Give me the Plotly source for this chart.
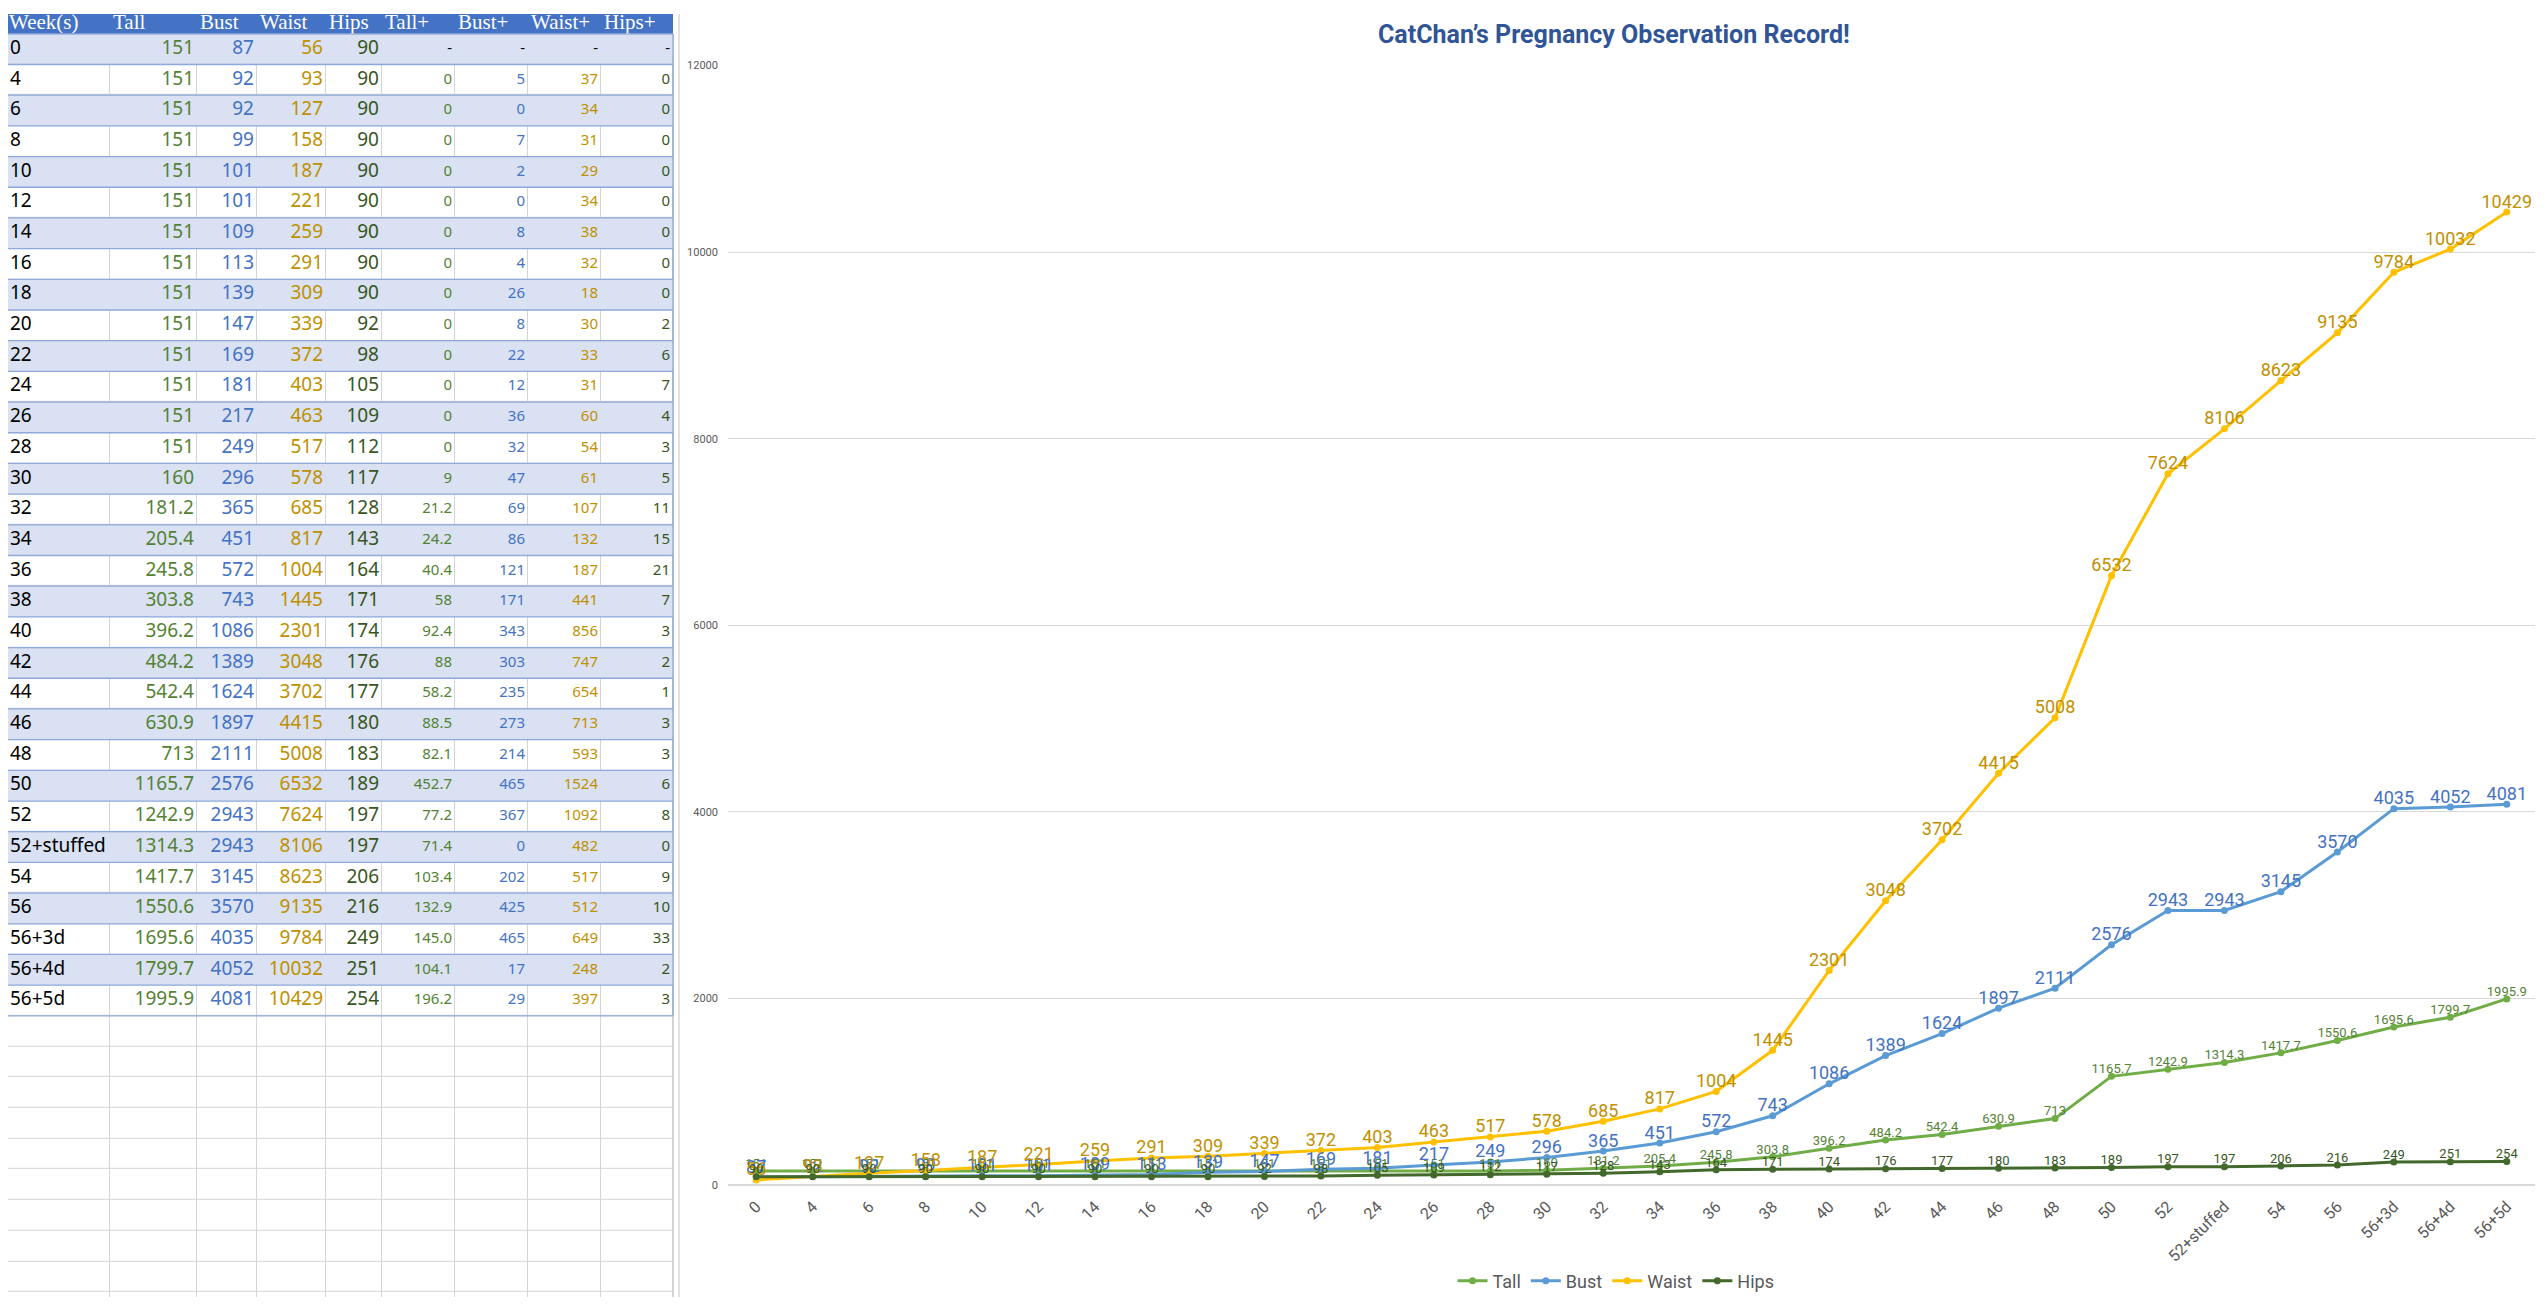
import plotly.graph_objects as go

# ---------------- data ----------------
weeks = ["0", "4", "6", "8", "10", "12", "14", "16", "18", "20", "22", "24", "26", "28",
         "30", "32", "34", "36", "38", "40", "42", "44", "46", "48", "50", "52",
         "52+stuffed", "54", "56", "56+3d", "56+4d", "56+5d"]
tall = [151, 151, 151, 151, 151, 151, 151, 151, 151, 151, 151, 151, 151, 151,
        160, 181.2, 205.4, 245.8, 303.8, 396.2, 484.2, 542.4, 630.9, 713, 1165.7,
        1242.9, 1314.3, 1417.7, 1550.6, 1695.6, 1799.7, 1995.9]
bust = [87, 92, 92, 99, 101, 101, 109, 113, 139, 147, 169, 181, 217, 249, 296, 365,
        451, 572, 743, 1086, 1389, 1624, 1897, 2111, 2576, 2943, 2943, 3145, 3570,
        4035, 4052, 4081]
waist = [56, 93, 127, 158, 187, 221, 259, 291, 309, 339, 372, 403, 463, 517, 578, 685,
         817, 1004, 1445, 2301, 3048, 3702, 4415, 5008, 6532, 7624, 8106, 8623, 9135,
         9784, 10032, 10429]
hips = [90, 90, 90, 90, 90, 90, 90, 90, 90, 92, 98, 105, 109, 112, 117, 128, 143, 164,
        171, 174, 176, 177, 180, 183, 189, 197, 197, 206, 216, 249, 251, 254]
tall_plus = ["-", "0", "0", "0", "0", "0", "0", "0", "0", "0", "0", "0", "0", "0", "9",
             "21.2", "24.2", "40.4", "58", "92.4", "88", "58.2", "88.5", "82.1", "452.7",
             "77.2", "71.4", "103.4", "132.9", "145.0", "104.1", "196.2"]
bust_plus = ["-", "5", "0", "7", "2", "0", "8", "4", "26", "8", "22", "12", "36", "32",
             "47", "69", "86", "121", "171", "343", "303", "235", "273", "214", "465",
             "367", "0", "202", "425", "465", "17", "29"]
waist_plus = ["-", "37", "34", "31", "29", "34", "38", "32", "18", "30", "33", "31", "60",
              "54", "61", "107", "132", "187", "441", "856", "747", "654", "713", "593",
              "1524", "1092", "482", "517", "512", "649", "248", "397"]
hips_plus = ["-", "0", "0", "0", "0", "0", "0", "0", "0", "2", "6", "7", "4", "3", "5",
             "11", "15", "21", "7", "3", "2", "1", "3", "3", "6", "8", "0", "9", "10",
             "33", "2", "3"]
headers = ["Week(s)", "Tall", "Bust", "Waist", "Hips", "Tall+", "Bust+", "Waist+", "Hips+"]
series_names = ["Tall", "Bust", "Waist", "Hips"]
title_text = "CatChan’s Pregnancy Observation Record!"

# ---------------- styling ----------------
OX, OY = 8, 8          # page body margin
W, H = 2546 - 2 * OX, 1312 - 2 * OY

LINE_COL = {"Tall": "#70AD47", "Bust": "#5B9BD5", "Waist": "#FFC000", "Hips": "#43682B"}
LBL_COL = {"Tall": "#548235", "Bust": "#4472C4", "Waist": "#BF9000", "Hips": "#375623"}
LBL_SIZE = {"Tall": 13, "Bust": 18, "Waist": 18, "Hips": 13}
CHART_FONT = "Roboto"
TABLE_FONT = "Noto Sans"
HEAD_FONT = "Liberation Serif"


def fmt(v):
    return str(int(v)) if float(v).is_integer() else f"{v:.1f}"


def px_x(X):
    return (X - OX) / W


def px_y(Y):
    return 1 - (Y - OY) / H


# table geometry (screen px); rows in row units
col_edges = [0, 110, 197, 257, 326, 382, 455, 528, 601, 673]
ROW_H, ROW0 = 31, 43.5


def row_of(Y):
    return (Y - ROW0) / ROW_H


n_rows = len(weeks)
n_empty = 10

fig = go.Figure()

# ---------- table: cell fills ----------
white_z = []
for i in range(n_rows + n_empty):
    if i < n_rows and i % 2 == 0:
        white_z.append([None] * (len(col_edges) - 1))
    else:
        white_z.append([0] * (len(col_edges) - 1))
fig.add_trace(go.Heatmap(
    x=col_edges, y=[k - 0.5 for k in range(n_rows + n_empty + 1)], z=white_z,
    colorscale=[[0, "#FFFFFF"], [1, "#FFFFFF"]], zmin=0, zmax=1, showscale=False,
    xgap=1, ygap=1, hoverinfo="skip", xaxis="x2", yaxis="y2"))

band_z = [[2]] + [[1] if i % 2 == 0 else [None] for i in range(n_rows)]
band_y = [row_of(0)] + [k - 0.5 for k in range(n_rows + 1)]
fig.add_trace(go.Heatmap(
    x=[col_edges[0], col_edges[-1]], y=band_y, z=band_z,
    colorscale=[[0, "#D9E1F2"], [1, "#4472C4"]], zmin=1, zmax=2, showscale=False,
    hoverinfo="skip", xaxis="x2", yaxis="y2"))

# ---------- table: text ----------
columns = [weeks, [fmt(v) for v in tall], [fmt(v) for v in bust], [fmt(v) for v in waist],
           [fmt(v) for v in hips], tall_plus, bust_plus, waist_plus, hips_plus]
col_colors = ["#000000", LBL_COL["Tall"], LBL_COL["Bust"], LBL_COL["Waist"], LBL_COL["Hips"],
              LBL_COL["Tall"], LBL_COL["Bust"], LBL_COL["Waist"], LBL_COL["Hips"]]
col_sizes = [19, 19, 19, 19, 19, 15, 15, 15, 15]
rows_idx = list(range(n_rows))
for j, col in enumerate(columns):
    colors = ["#000000" if t == "-" else col_colors[j] for t in col]
    if j == 0:
        xpos, tpos = max(col_edges[0] + 4, OX + 2), "middle right"
    else:
        xpos, tpos = col_edges[j + 1] - 3, "middle left"
    fig.add_trace(go.Scatter(
        x=[xpos] * n_rows, y=rows_idx, text=col, mode="text", textposition=tpos,
        textfont=dict(family=TABLE_FONT, size=col_sizes[j], color=colors),
        cliponaxis=False, hoverinfo="skip", showlegend=False, xaxis="x2", yaxis="y2"))

head_y = row_of(18)
fig.add_trace(go.Scatter(
    x=[max(col_edges[j] + 3, OX + 1) for j in range(len(headers))], y=[head_y] * len(headers),
    text=headers, mode="text", textposition="middle right",
    textfont=dict(family=HEAD_FONT, size=21, color="#FFFFFF"),
    cliponaxis=False, hoverinfo="skip", showlegend=False, xaxis="x2", yaxis="y2"))

# ---------- chart: lines ----------
series_vals = {"Tall": tall, "Bust": bust, "Waist": waist, "Hips": hips}
for name in series_names:
    fig.add_trace(go.Scatter(
        x=weeks, y=series_vals[name], name=name, mode="lines+markers",
        line=dict(color=LINE_COL[name], width=3),
        marker=dict(color=LINE_COL[name], size=7), cliponaxis=False,
        xaxis="x", yaxis="y"))
for name in series_names:
    fig.add_trace(go.Scatter(
        x=weeks, y=series_vals[name], mode="text",
        text=[fmt(v) for v in series_vals[name]], textposition="top center",
        textfont=dict(family=CHART_FONT, size=LBL_SIZE[name], color=LBL_COL[name]),
        marker=dict(size=7), cliponaxis=False, hoverinfo="skip", showlegend=False,
        xaxis="x", yaxis="y"))

# ---------- shapes: table grid lines & chart border ----------
shapes = [dict(type="rect", xref="x2", yref="y2", x0=col_edges[0], x1=col_edges[-1] + 1,
               y0=-0.5, y1=n_rows + n_empty - 0.5, fillcolor="#D4D4D4",
               line=dict(width=0), layer="below")]
for k in range(n_rows + 1):
    shapes.append(dict(type="line", xref="x2", yref="y2", x0=col_edges[0], x1=col_edges[-1],
                       y0=k - 0.5, y1=k - 0.5, line=dict(color="#8EA9DB", width=1.3),
                       layer="above"))
shapes.append(dict(type="line", xref="x2", yref="y2", x0=col_edges[-1], x1=col_edges[-1],
                   y0=-0.5, y1=n_rows - 0.5, line=dict(color="#8EA9DB", width=1.3),
                   layer="above"))
shapes.append(dict(type="line", xref="paper", yref="paper", x0=px_x(679), x1=px_x(679),
                   y0=0, y1=1, line=dict(color="#D9D9D9", width=1.5)))

fig.update_layout(
    width=W, height=H, autosize=False,
    margin=dict(l=0, r=0, t=0, b=0, pad=0),
    paper_bgcolor="#FFFFFF", plot_bgcolor="#FFFFFF",
    showlegend=True,
    shapes=shapes,
    xaxis=dict(domain=[px_x(728), px_x(2535)], anchor="y", type="category",
               range=[-0.5, len(weeks) - 0.5], tickangle=-45, ticks="",
               showgrid=False, showline=False, zeroline=False,
               tickfont=dict(family=CHART_FONT, size=16, color="#595959"),
               ticklabelstandoff=8, fixedrange=True),
    yaxis=dict(domain=[px_y(1191), px_y(60)], anchor="x", range=[0, 12000],
               tick0=0, dtick=2000, tickformat="d", ticks="", showline=False,
               showgrid=True, gridcolor="#D9D9D9", gridwidth=1,
               zeroline=True, zerolinecolor="#D9D9D9", zerolinewidth=1.5,
               tickfont=dict(family=CHART_FONT, size=11, color="#595959"),
               ticklabelstandoff=9, fixedrange=True),
    xaxis2=dict(domain=[0, px_x(675)], anchor="y2", range=[OX, 675], visible=False,
                fixedrange=True),
    yaxis2=dict(domain=[0, 1], anchor="x2", range=[row_of(OY + H), row_of(OY)],
                visible=False, fixedrange=True),
    legend=dict(orientation="h", x=px_x(1616), xanchor="center", y=px_y(1288),
                yanchor="middle", font=dict(family=CHART_FONT, size=18, color="#595959"),
                bgcolor="rgba(0,0,0,0)", itemwidth=30, traceorder="normal"),
    annotations=[dict(text="<b>" + title_text + "</b>", xref="paper", yref="paper",
                      x=px_x(1614), y=px_y(29), xanchor="center", yanchor="middle",
                      showarrow=False,
                      font=dict(family=CHART_FONT, size=25, color="#2F5597"))],
)

fig.write_html("out.html")
